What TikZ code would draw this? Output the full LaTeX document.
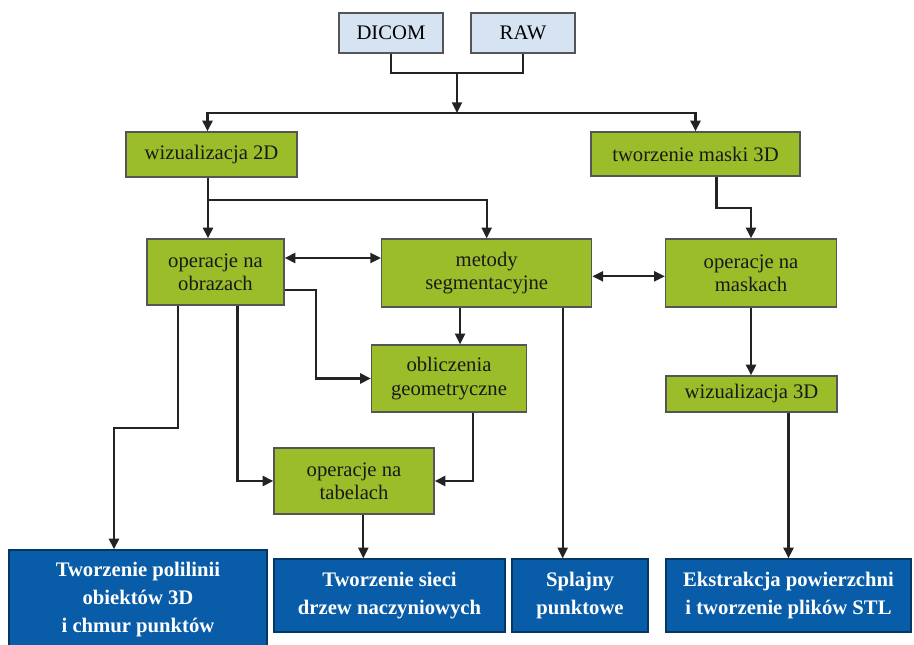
\documentclass[tikz,border=0pt]{standalone}
\usepackage{fontspec}
\setmainfont{Liberation Serif}
\usepackage{xcolor}
\usepackage{tikz}
\usetikzlibrary{arrows.meta}

\definecolor{zielen}{RGB}{155,189,42}
\definecolor{ramka}{RGB}{85,85,85}
\definecolor{granat}{RGB}{8,92,168}
\definecolor{blekit}{RGB}{214,227,242}
\definecolor{linia}{RGB}{35,35,35}

\tikzset{
  blok/.style={draw=ramka, line width=1pt, align=center, inner sep=2pt, font=\fontsize{15.5}{17.5}\selectfont},
  zielony/.style={blok, fill=zielen, text=black!90},
  wejscie/.style={blok, fill=blekit},
  niebieski/.style={blok, draw=granat!60!black, fill=granat, text=white, font=\fontsize{15.5}{21}\selectfont\bfseries},
  polacz/.style={draw=linia, line width=1.6pt},
  strzalka/.style={polacz, -{Triangle[length=8pt,width=7.5pt]}},
  dwustr/.style={polacz, {Triangle[length=8pt,width=7.5pt]}-{Triangle[length=8pt,width=7.5pt]}},
}

\begin{document}
\begin{tikzpicture}[x=0.75pt,y=0.75pt,yscale=-1,xscale=1]
\useasboundingbox (0,0) rectangle (914,645);

% Input nodes
\node [wejscie, minimum width=78pt, minimum height=30pt] (dicom) at (391,33) {DICOM};
\node [wejscie, minimum width=78pt, minimum height=30pt] (raw) at (523,33) {RAW};

% Green nodes
\node [zielony, minimum width=128.25pt, minimum height=33.75pt] (wiz2d) at (211.5,154.5) {wizualizacja 2D};
\node [zielony, minimum width=156.75pt, minimum height=33pt] (maska) at (695.5,154) {tworzenie maski 3D};
\node [zielony, minimum width=102.75pt, minimum height=49.5pt] (obrazy) at (215.5,272) {operacje na\\obrazach};
\node [zielony, minimum width=157.5pt, minimum height=51pt] (metody) at (486.7,273) {metody\\segmentacyjne};
\node [zielony, minimum width=128.25pt, minimum height=51pt] (maski) at (751,273) {operacje na\\maskach};
\node [zielony, minimum width=116.25pt, minimum height=50.25pt] (obliczenia) at (449,378.5) {obliczenia\\geometryczne};
\node [zielony, minimum width=128.25pt, minimum height=27pt] (wiz3d) at (751.5,394) {wizualizacja 3D};
\node [zielony, minimum width=120pt, minimum height=49.5pt] (tabele) at (354,481) {operacje na\\tabelach};

% Blue nodes
\node [niebieski, minimum width=193.5pt, minimum height=75pt] (polilinie) at (138,600) {Tworzenie polilinii\\obiektów 3D\\i chmur punktów};
\node [niebieski, minimum width=173.25pt, minimum height=54.75pt] (sieci) at (389.5,595.5) {Tworzenie sieci\\drzew naczyniowych};
\node [niebieski, minimum width=102pt, minimum height=54.75pt] (splajny) at (580,595.5) {Splajny\\punktowe};
\node [niebieski, minimum width=183.75pt, minimum height=54.75pt] (ekstr) at (788.5,595.5) {Ekstrakcja powierzchni\\i tworzenie plików STL};

% Junctions
\coordinate (zl) at (457,73);
\coordinate (rozdz) at (457,113);
\coordinate (w2) at (208,200);
\coordinate (mk) at (716.5,208);
\coordinate (pl) at (114,428);

% Connectors
\draw [polacz] (dicom.south) |- (zl) -| (raw.south);
\draw [strzalka] (zl) -- (rozdz);
\draw [strzalka] (rozdz) -| ([xshift=-3pt]wiz2d.north);
\draw [strzalka] (rozdz) -| (maska.north);
\draw [strzalka] (wiz2d.south -| w2) -- (w2 |- obrazy.north);
\draw [strzalka] (w2) -| (metody.north);
\draw [strzalka] (maska.south -| mk) -- (mk) -| (maski.north);
\draw [dwustr] ([yshift=-10.5pt]obrazy.east) -- ([yshift=-10.5pt]obrazy.east -| metody.west);
\draw [dwustr] ([yshift=2.5pt]metody.east) -- ([yshift=2.5pt]maski.west);
\draw [strzalka] ([xshift=-20pt]metody.south) -- ([xshift=-20pt]metody.south |- obliczenia.north);
\draw [strzalka] ([yshift=13.5pt]obrazy.east) -- ++(31,0) |- (obliczenia.west);
\draw [strzalka] ([xshift=16.5pt]obrazy.south) |- (tabele.west);
\draw [strzalka] ([xshift=18pt]obliczenia.south) |- (tabele.east);
\draw [strzalka] ([xshift=-28pt]obrazy.south) |- (pl) -- (pl |- polilinie.north);
\draw [strzalka] ([xshift=7pt]tabele.south) -- ([xshift=7pt]tabele.south |- sieci.north);
\draw [strzalka] ([xshift=57pt]metody.south) -- ([xshift=57pt]metody.south |- splajny.north);
\draw [strzalka] (maski.south) -- (maski.south |- wiz3d.north);
\draw [strzalka] (wiz3d.south -| ekstr.north) -- (ekstr.north);

\end{tikzpicture}
\end{document}
